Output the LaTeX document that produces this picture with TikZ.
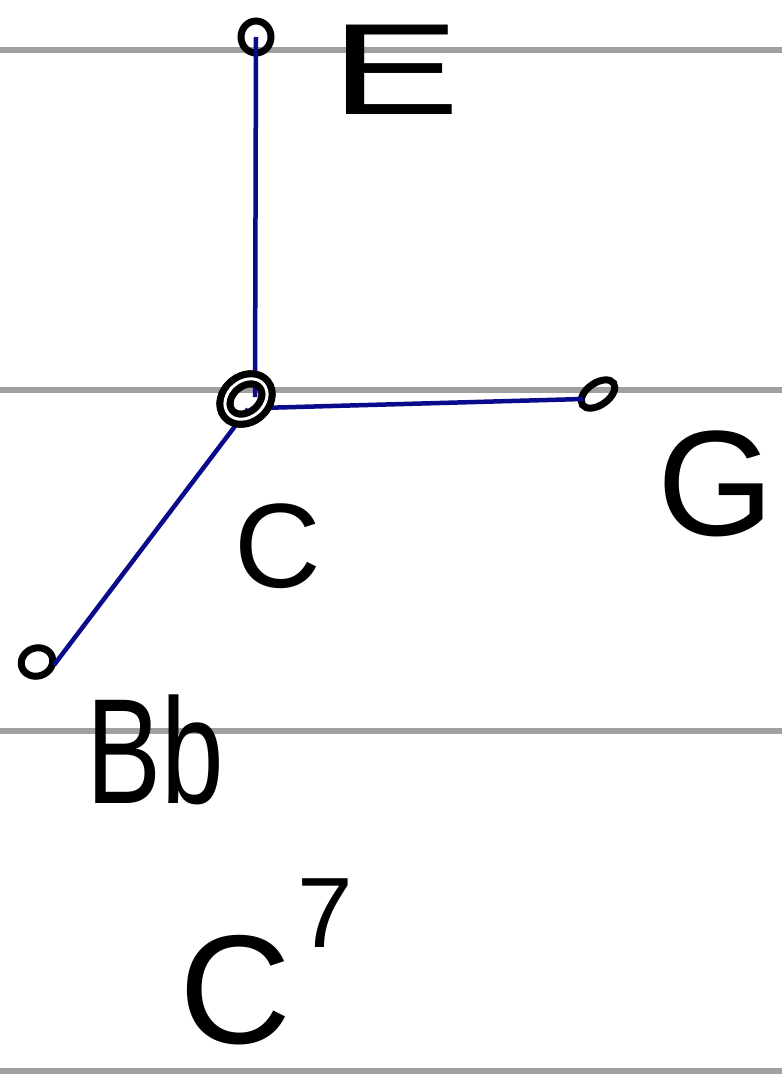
\documentclass[tikz,border=0pt]{standalone}
\usepackage{fontspec}
\setmainfont{Liberation Sans}
\definecolor{staff}{HTML}{A0A0A0}
\definecolor{edgeblue}{HTML}{0A0A8C}
\usetikzlibrary{shapes.geometric}
\tikzset{
  staffline/.style={draw=staff, line width=6pt},
  dot/.style={draw=black, line width=7pt, ellipse, inner sep=0pt},
  edge/.style={draw=edgeblue, line width=4.5pt},
  lbl/.style={text=black, inner sep=0pt},
}
\begin{document}
\begin{tikzpicture}[x=1pt,y=-1pt]
\useasboundingbox (0,0) rectangle (782,1079);
\fill[white] (0,0) rectangle (782,1079);
% staff lines
\coordinate (s1l) at (0,50);   \coordinate (s1r) at (782,50);
\coordinate (s2l) at (0,390);  \coordinate (s2r) at (782,390);
\coordinate (s3l) at (0,731);  \coordinate (s3r) at (782,731);
\coordinate (s4l) at (0,1071); \coordinate (s4r) at (782,1071);
\draw[staffline] (s1l) -- (s1r);
\draw[staffline] (s2l) -- (s2r);
\draw[staffline] (s3l) -- (s3r);
\draw[staffline] (s4l) -- (s4r);
% nodes
\node[dot, minimum width=30pt, minimum height=32pt] (nE) at (256,37) {};
\node[dot, minimum width=46pt, minimum height=36pt, rotate=40, double=white, double distance=3pt] (nC) at (246,399) {};
\node[dot, minimum width=38pt, minimum height=22pt, rotate=35] (nG) at (598,394) {};
\node[dot, minimum width=32pt, minimum height=28pt, rotate=20] (nB) at (37,662) {};
% edges
\draw[edge] (nE.center) -- ([xshift=9pt,yshift=2pt]nC.center);
\draw[edge] ([xshift=14pt,yshift=-9pt]nC.center) -- ([xshift=-15pt,yshift=-5pt]nG.center);
\draw[edge] ([xshift=2pt,yshift=-10pt]nC.center) -- ([xshift=17pt,yshift=-3pt]nB.center);
% redraw centre node over edge ends
\node[dot, minimum width=46pt, minimum height=36pt, rotate=40, double=white, double distance=3pt] at (nC.center) {};
% labels
\node[lbl, font=\fontsize{130}{130}\selectfont, xscale=1.5] (tE) at (396,70) {E};
\node[lbl, font=\fontsize{150}{150}\selectfont] (tG) at (716,484) {G};
\node[lbl, font=\fontsize{120}{120}\selectfont] (tC) at (278,546) {C};
\node[lbl, font=\fontsize{150}{150}\selectfont, xscale=0.75] (tBb) at (155,750) {Bb};
\node[lbl, font=\fontsize{155}{155}\selectfont] (tC7) at (235,990) {C};
\node[lbl, font=\fontsize{100}{100}\selectfont] (t7) at (325,913) {7};
\end{tikzpicture}
\end{document}
